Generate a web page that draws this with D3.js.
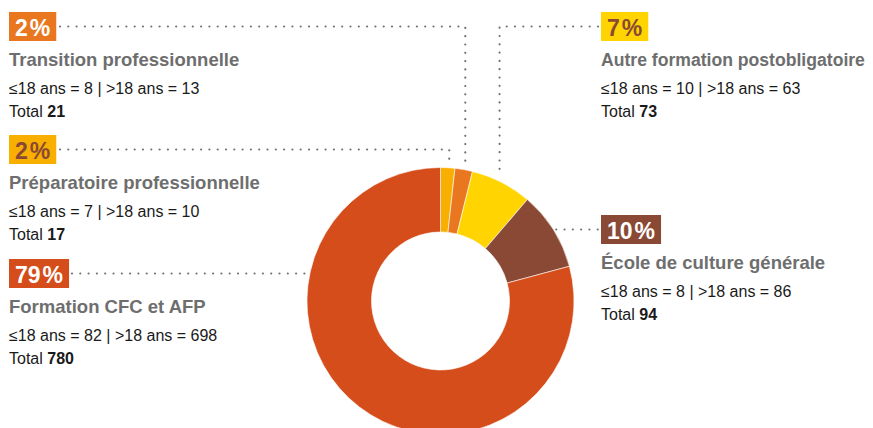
<!DOCTYPE html>
<html>
<head>
<meta charset="utf-8">
<script src="https://cdn.jsdelivr.net/npm/d3@7"></script>
<style>
  html, body { margin: 0; padding: 0; background: #fff; }
  svg { display: block; }
  text { font-family: "Liberation Sans", Arial, sans-serif; }
</style>
</head>
<body>
<div id="chart"></div>
<script>
// ---- data ----
const categories = ["Préparatoire professionnelle", "Transition professionnelle", "Autre formation postobligatoire", "École de culture générale", "Formation CFC et AFP"];
const under18 = [7, 8, 10, 8, 82];
const over18 = [10, 13, 63, 86, 698];
const totals = [17, 21, 73, 94, 780];
const colors = ["#F9AF00", "#E8771F", "#FFD400", "#8A4934", "#D44D1A"];
const pctColors = ["#8A4934", "#ffffff", "#8A4934", "#ffffff", "#ffffff"];

// ---- layout (label placement) ----
const labelSide = ["left", "left", "right", "right", "left"];
const labelTop = [135, 12, 12, 215, 259];

const W = 873, H = 428;
const cx = 440.5, cy = 301, R = 133.5, r0 = 69;
const leftX = 9, rightX = 601;

const svg = d3.select("#chart").append("svg").attr("width", W).attr("height", H);

const sum = d3.sum(totals);
const data = categories.map((c, i) => ({ i, name: c, value: totals[i] }));
const pie = d3.pie().sort(null).value(d => d.value);
const arcs = pie(data);
const arc = d3.arc().innerRadius(r0).outerRadius(R);

const g = svg.append("g").attr("transform", `translate(${cx},${cy})`);
g.selectAll("path").data(arcs).join("path")
  .attr("d", arc)
  .attr("fill", d => colors[d.data.i])
  .attr("stroke", "#fff")
  .attr("stroke-width", 0.6);

// leader lines
const dotStyle = sel => sel.attr("fill", "none").attr("stroke", "#707070")
  .attr("stroke-width", 2.2).attr("stroke-linecap", "round")
  .attr("stroke-dasharray", "0,8.3");

function outerXAtY(y, sign) {
  const dy = y - cy;
  return cx + sign * Math.sqrt(R * R - dy * dy);
}

const boxH = 29;
arcs.forEach(a => {
  const i = a.data.i;
  const mid = (a.startAngle + a.endAngle) / 2;
  const ly = labelTop[i] + boxH / 2;
  let pts;
  if (i === 0 || i === 1 || i === 2) {
    const vx = cx + R * Math.sin(mid) + (i === 2 ? -2 : 1.5);
    const vyEnd = cy - Math.sqrt(R * R - (vx - cx) * (vx - cx)) - (i === 2 ? 7 : 4);
    const startX = labelSide[i] === "left" ? 60 : rightX - 3;
    pts = [[startX, ly], [vx, ly], [vx, vyEnd]];
  } else if (labelSide[i] === "left") {
    pts = [[72, ly], [outerXAtY(ly, -1) - 4, ly]];
  } else {
    pts = [[outerXAtY(ly, 1) + 3, ly], [rightX - 3, ly]];
  }
  svg.append("path").attr("d", d3.line()(pts)).call(dotStyle);
});

// labels
categories.forEach((name, i) => {
  const x = labelSide[i] === "left" ? leftX : rightX;
  const top = labelTop[i];
  const lg = svg.append("g");
  const pct = Math.round(totals[i] / sum * 100);
  const rect = lg.append("rect").attr("x", x).attr("y", top).attr("height", boxH).attr("fill", colors[i]);
  const pt = lg.append("text").attr("x", x + 6).attr("y", top + 23.5)
    .attr("fill", pctColors[i]).attr("font-size", 23).attr("font-weight", "bold");
  pt.append("tspan").text(pct);
  pt.append("tspan").attr("dx", 2).text("%");
  const tw = pt.node().getComputedTextLength() + 2;
  rect.attr("width", tw + 12);

  const baseSize = 18.5;
  const title = lg.append("text").attr("x", x).attr("y", top + 53.5)
    .attr("fill", "#6E6E6E").attr("font-size", baseSize).attr("font-weight", "bold")
    .text(name);
  const maxW = W - x - 8;
  const natural = title.node().getComputedTextLength();
  if (natural > maxW) {
    title.attr("font-size", Math.floor(baseSize * maxW / natural * 10) / 10);
  }
  lg.append("text").attr("x", x).attr("y", top + 81.5)
    .attr("fill", "#1a1a1a").attr("font-size", 16)
    .text(`≤18 ans = ${under18[i]} | >18 ans = ${over18[i]}`);
  const tt = lg.append("text").attr("x", x).attr("y", top + 105)
    .attr("fill", "#1a1a1a").attr("font-size", 16);
  tt.append("tspan").text("Total ");
  tt.append("tspan").attr("font-weight", "bold").text(totals[i]);
});
</script>
</body>
</html>
